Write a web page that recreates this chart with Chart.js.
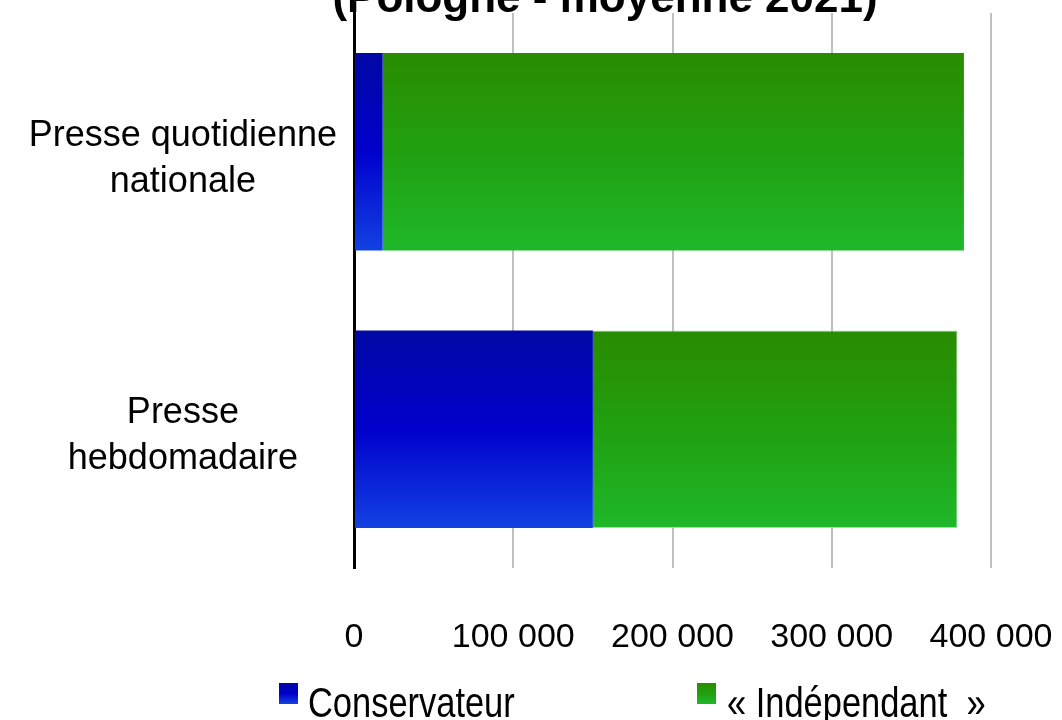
<!DOCTYPE html>
<html>
<head>
<meta charset="utf-8">
<script src="https://cdn.jsdelivr.net/npm/chart.js@4"></script>
<style>
  html, body { margin: 0; padding: 0; background: #ffffff; overflow: hidden; }
  #wrap { position: relative; width: 1062px; height: 720px; }
  #c { position: absolute; left: 0; top: 0; }
  .lg { position: absolute; font-family: "Liberation Sans", Arial, sans-serif; font-size: 42px; color: #000; white-space: pre; line-height: 1; transform: scaleX(0.82); transform-origin: 0 0; }
  .box { position: absolute; width: 19px; height: 21px; }
</style>
</head>
<body>
<div id="wrap">
  <canvas id="c" width="1062" height="720"></canvas>
  <div id="legend"></div>
</div>
<script>
const categories = [["Presse quotidienne", "nationale"], ["Presse", "hebdomadaire"]];
const seriesNames = ["Conservateur", "« Indépendant  »"];
const conservateur = [18000, 150000];
const independant = [365000, 229000];
const xTickLabels = ["0", "100 000", "200 000", "300 000", "400 000"];
const titleText = "(Pologne - moyenne 2021)";

const gradStops = [
  [[0, "#0008a4"], [0.5, "#0000cc"], [1, "#1242e2"]],
  [[0, "#2a8c00"], [0.5, "#20a010"], [1, "#1eb82a"]]
];

const BAR_PCT = 0.712;

function barGradient(ctx, which) {
  const chart = ctx.chart;
  const y = chart.scales && chart.scales.y;
  if (!chart.chartArea || !y || ctx.dataIndex === undefined) return gradStops[which][1][1];
  const center = y.getPixelForValue(ctx.dataIndex);
  const half = (y.height / categories.length) * BAR_PCT / 2;
  const g = chart.ctx.createLinearGradient(0, center - half, 0, center + half);
  gradStops[which].forEach(s => g.addColorStop(s[0], s[1]));
  return g;
}

const titlePlugin = {
  id: 'cutTitle',
  afterDraw(chart) {
    const c = chart.ctx;
    c.save();
    c.font = 'bold 44px "Liberation Sans", Arial, sans-serif';
    c.fillStyle = '#000';
    c.textAlign = 'center';
    c.textBaseline = 'alphabetic';
    c.fillText(titleText, 605, 12);
    c.restore();
  }
};

function noPad(s) { s.paddingTop = 0; s.paddingBottom = 0; s.paddingLeft = 0; s.paddingRight = 0; }

new Chart(document.getElementById('c'), {
  type: 'bar',
  data: {
    labels: categories,
    datasets: [
      { label: seriesNames[0], data: conservateur, backgroundColor: ctx => barGradient(ctx, 0), borderWidth: 0 },
      { label: seriesNames[1], data: independant, backgroundColor: ctx => barGradient(ctx, 1),
        borderColor: 'rgba(150,220,150,0.9)', borderWidth: ctx => ctx.dataIndex === 1 ? 1 : 0 }
    ]
  },
  options: {
    indexAxis: 'y',
    responsive: false,
    animation: false,
    events: [],
    barPercentage: BAR_PCT,
    categoryPercentage: 1,
    layout: { padding: { top: 13, right: 71, left: 0, bottom: 0 } },
    plugins: { legend: { display: false }, title: { display: false }, tooltip: { enabled: false } },
    scales: {
      x: {
        stacked: true,
        min: 0, max: 400000,
        ticks: {
          stepSize: 100000,
          padding: 49,
          color: '#000',
          maxRotation: 0,
          autoSkip: false,
          font: { family: '"Liberation Sans", Arial, sans-serif', size: 34 },
          callback: (v, i) => xTickLabels[i]
        },
        grid: {
          color: ctx => (ctx.tick && ctx.tick.value === 0) ? 'rgba(0,0,0,0)' : '#bfbfbf',
          lineWidth: 2,
          tickLength: 0,
          drawTicks: false
        },
        border: { display: false },
        afterFit: s => { s.height = 152; noPad(s); }
      },
      y: {
        stacked: true,
        ticks: {
          color: '#000',
          crossAlign: 'center',
          padding: 17,
          labelOffset: 7,
          font: { family: '"Liberation Sans", Arial, sans-serif', size: 36, lineHeight: 1.28 }
        },
        grid: { display: false, drawTicks: false, tickLength: 0 },
        border: { display: true, color: '#000', width: 3 },
        afterFit: s => { s.width = 354; noPad(s); }
      }
    }
  },
  plugins: [titlePlugin]
});

// HTML legend built from series names / colors
const legendPos = [{ box: 279, text: 308 }, { box: 697, text: 727 }];
const lg = document.getElementById('legend');
seriesNames.forEach((name, i) => {
  const b = document.createElement('div');
  b.className = 'box';
  b.style.left = legendPos[i].box + 'px';
  b.style.top = '683px';
  b.style.background = 'linear-gradient(to bottom, ' + gradStops[i].map(s => s[1] + ' ' + (s[0] * 100) + '%').join(', ') + ')';
  lg.appendChild(b);
  const t = document.createElement('div');
  t.className = 'lg';
  t.style.left = legendPos[i].text + 'px';
  t.style.top = '682px';
  t.textContent = name;
  lg.appendChild(t);
});
</script>
</body>
</html>
